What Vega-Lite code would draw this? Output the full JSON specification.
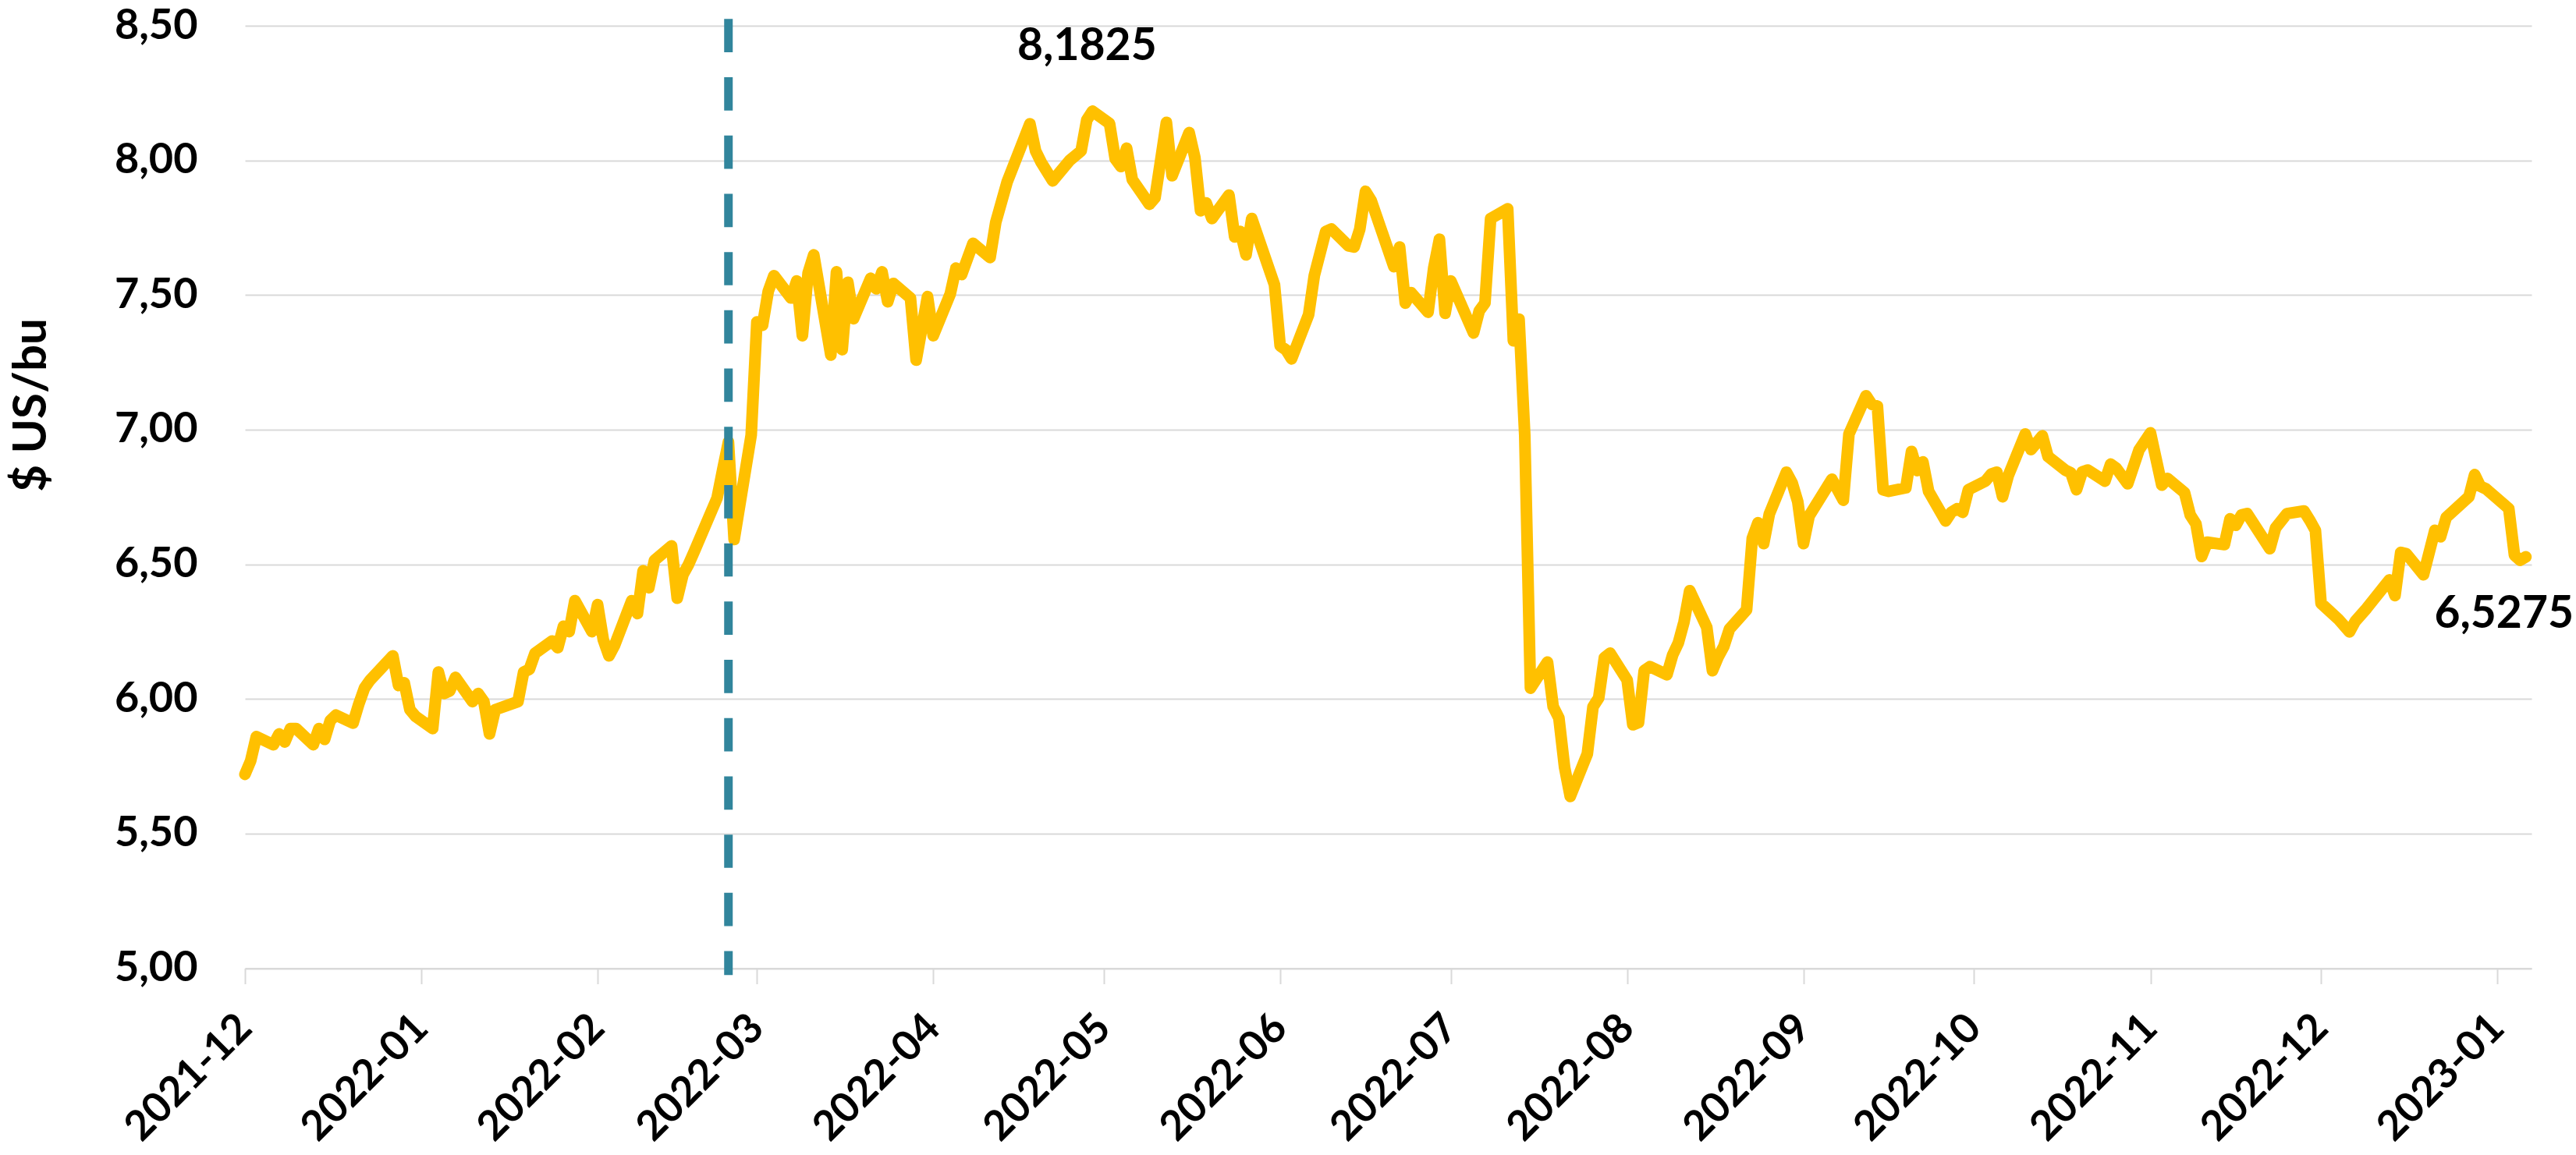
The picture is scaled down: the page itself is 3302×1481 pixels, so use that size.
{
  "$schema": "https://vega.github.io/schema/vega-lite/v6.json",
  "width": 2931,
  "height": 1208.5,
  "autosize": {"type": "none"},
  "padding": {"left": 314, "top": 33, "right": 57, "bottom": 240},
  "background": "white",
  "config": {"view": {"stroke": null}, "font": "Lato"},
  "layer": [
    {
      "data": {"values": [
        {"date": "2021-12-01", "price": 5.72}, {"date": "2021-12-02", "price": 5.77}, {"date": "2021-12-03", "price": 5.86},
        {"date": "2021-12-06", "price": 5.83}, {"date": "2021-12-07", "price": 5.87}, {"date": "2021-12-08", "price": 5.84},
        {"date": "2021-12-09", "price": 5.89}, {"date": "2021-12-10", "price": 5.89}, {"date": "2021-12-13", "price": 5.83},
        {"date": "2021-12-14", "price": 5.89}, {"date": "2021-12-15", "price": 5.85}, {"date": "2021-12-16", "price": 5.92},
        {"date": "2021-12-17", "price": 5.94}, {"date": "2021-12-20", "price": 5.91}, {"date": "2021-12-21", "price": 5.98},
        {"date": "2021-12-22", "price": 6.04}, {"date": "2021-12-23", "price": 6.07}, {"date": "2021-12-27", "price": 6.16},
        {"date": "2021-12-28", "price": 6.05}, {"date": "2021-12-29", "price": 6.06}, {"date": "2021-12-30", "price": 5.96},
        {"date": "2021-12-31", "price": 5.935}, {"date": "2022-01-03", "price": 5.89}, {"date": "2022-01-04", "price": 6.10},
        {"date": "2022-01-05", "price": 6.02}, {"date": "2022-01-06", "price": 6.03}, {"date": "2022-01-07", "price": 6.08},
        {"date": "2022-01-10", "price": 5.99}, {"date": "2022-01-11", "price": 6.02}, {"date": "2022-01-12", "price": 5.99},
        {"date": "2022-01-13", "price": 5.87}, {"date": "2022-01-14", "price": 5.96}, {"date": "2022-01-18", "price": 5.99},
        {"date": "2022-01-19", "price": 6.10}, {"date": "2022-01-20", "price": 6.11}, {"date": "2022-01-21", "price": 6.17},
        {"date": "2022-01-24", "price": 6.215}, {"date": "2022-01-25", "price": 6.19}, {"date": "2022-01-26", "price": 6.27},
        {"date": "2022-01-27", "price": 6.25}, {"date": "2022-01-28", "price": 6.365}, {"date": "2022-01-31", "price": 6.25},
        {"date": "2022-02-01", "price": 6.35}, {"date": "2022-02-02", "price": 6.22}, {"date": "2022-02-03", "price": 6.16},
        {"date": "2022-02-04", "price": 6.20}, {"date": "2022-02-07", "price": 6.365}, {"date": "2022-02-08", "price": 6.317},
        {"date": "2022-02-09", "price": 6.476}, {"date": "2022-02-10", "price": 6.413}, {"date": "2022-02-11", "price": 6.515},
        {"date": "2022-02-14", "price": 6.568}, {"date": "2022-02-15", "price": 6.374}, {"date": "2022-02-16", "price": 6.461},
        {"date": "2022-02-17", "price": 6.50}, {"date": "2022-02-18", "price": 6.548}, {"date": "2022-02-22", "price": 6.746},
        {"date": "2022-02-23", "price": 6.852}, {"date": "2022-02-24", "price": 6.954}, {"date": "2022-02-25", "price": 6.592},
        {"date": "2022-02-28", "price": 6.98}, {"date": "2022-03-01", "price": 7.40}, {"date": "2022-03-02", "price": 7.388},
        {"date": "2022-03-03", "price": 7.514}, {"date": "2022-03-04", "price": 7.572}, {"date": "2022-03-07", "price": 7.489},
        {"date": "2022-03-08", "price": 7.552}, {"date": "2022-03-09", "price": 7.349}, {"date": "2022-03-10", "price": 7.581},
        {"date": "2022-03-11", "price": 7.649}, {"date": "2022-03-14", "price": 7.277}, {"date": "2022-03-15", "price": 7.586},
        {"date": "2022-03-16", "price": 7.297}, {"date": "2022-03-17", "price": 7.547}, {"date": "2022-03-18", "price": 7.412},
        {"date": "2022-03-21", "price": 7.562}, {"date": "2022-03-22", "price": 7.523}, {"date": "2022-03-23", "price": 7.586},
        {"date": "2022-03-24", "price": 7.475}, {"date": "2022-03-25", "price": 7.543}, {"date": "2022-03-28", "price": 7.489},
        {"date": "2022-03-29", "price": 7.258}, {"date": "2022-03-31", "price": 7.494}, {"date": "2022-04-01", "price": 7.349},
        {"date": "2022-04-04", "price": 7.504}, {"date": "2022-04-05", "price": 7.60}, {"date": "2022-04-06", "price": 7.576},
        {"date": "2022-04-08", "price": 7.692}, {"date": "2022-04-11", "price": 7.639}, {"date": "2022-04-12", "price": 7.77},
        {"date": "2022-04-14", "price": 7.92}, {"date": "2022-04-18", "price": 8.136}, {"date": "2022-04-19", "price": 8.035},
        {"date": "2022-04-20", "price": 7.992}, {"date": "2022-04-22", "price": 7.924}, {"date": "2022-04-25", "price": 8.00},
        {"date": "2022-04-27", "price": 8.035}, {"date": "2022-04-28", "price": 8.15}, {"date": "2022-04-29", "price": 8.1825},
        {"date": "2022-05-02", "price": 8.137}, {"date": "2022-05-03", "price": 8.006}, {"date": "2022-05-04", "price": 7.977},
        {"date": "2022-05-05", "price": 8.045}, {"date": "2022-05-06", "price": 7.929}, {"date": "2022-05-09", "price": 7.837},
        {"date": "2022-05-10", "price": 7.861}, {"date": "2022-05-12", "price": 8.141}, {"date": "2022-05-13", "price": 7.943},
        {"date": "2022-05-16", "price": 8.103}, {"date": "2022-05-17", "price": 8.011}, {"date": "2022-05-18", "price": 7.813},
        {"date": "2022-05-19", "price": 7.842}, {"date": "2022-05-20", "price": 7.784}, {"date": "2022-05-23", "price": 7.871},
        {"date": "2022-05-24", "price": 7.716}, {"date": "2022-05-25", "price": 7.736}, {"date": "2022-05-26", "price": 7.649},
        {"date": "2022-05-27", "price": 7.784}, {"date": "2022-05-31", "price": 7.538}, {"date": "2022-06-01", "price": 7.311},
        {"date": "2022-06-02", "price": 7.297}, {"date": "2022-06-03", "price": 7.263}, {"date": "2022-06-06", "price": 7.427},
        {"date": "2022-06-07", "price": 7.572}, {"date": "2022-06-09", "price": 7.736}, {"date": "2022-06-10", "price": 7.745},
        {"date": "2022-06-13", "price": 7.683}, {"date": "2022-06-14", "price": 7.678}, {"date": "2022-06-15", "price": 7.745},
        {"date": "2022-06-16", "price": 7.885}, {"date": "2022-06-17", "price": 7.851}, {"date": "2022-06-21", "price": 7.605},
        {"date": "2022-06-22", "price": 7.678}, {"date": "2022-06-23", "price": 7.470}, {"date": "2022-06-24", "price": 7.509},
        {"date": "2022-06-27", "price": 7.436}, {"date": "2022-06-28", "price": 7.601}, {"date": "2022-06-29", "price": 7.707},
        {"date": "2022-06-30", "price": 7.432}, {"date": "2022-07-01", "price": 7.552}, {"date": "2022-07-05", "price": 7.359},
        {"date": "2022-07-06", "price": 7.441}, {"date": "2022-07-07", "price": 7.470}, {"date": "2022-07-08", "price": 7.784},
        {"date": "2022-07-11", "price": 7.82}, {"date": "2022-07-12", "price": 7.33}, {"date": "2022-07-13", "price": 7.41},
        {"date": "2022-07-14", "price": 6.98}, {"date": "2022-07-15", "price": 6.04}, {"date": "2022-07-18", "price": 6.137},
        {"date": "2022-07-19", "price": 5.971}, {"date": "2022-07-20", "price": 5.929}, {"date": "2022-07-21", "price": 5.746},
        {"date": "2022-07-22", "price": 5.638}, {"date": "2022-07-25", "price": 5.796}, {"date": "2022-07-26", "price": 5.971},
        {"date": "2022-07-27", "price": 6.004}, {"date": "2022-07-28", "price": 6.153}, {"date": "2022-07-29", "price": 6.17},
        {"date": "2022-08-01", "price": 6.07}, {"date": "2022-08-02", "price": 5.904}, {"date": "2022-08-03", "price": 5.912},
        {"date": "2022-08-04", "price": 6.105}, {"date": "2022-08-05", "price": 6.12}, {"date": "2022-08-08", "price": 6.09},
        {"date": "2022-08-09", "price": 6.163}, {"date": "2022-08-10", "price": 6.208}, {"date": "2022-08-11", "price": 6.286},
        {"date": "2022-08-12", "price": 6.402}, {"date": "2022-08-15", "price": 6.266}, {"date": "2022-08-16", "price": 6.105},
        {"date": "2022-08-17", "price": 6.156}, {"date": "2022-08-18", "price": 6.195}, {"date": "2022-08-19", "price": 6.26},
        {"date": "2022-08-22", "price": 6.331}, {"date": "2022-08-23", "price": 6.596}, {"date": "2022-08-24", "price": 6.654},
        {"date": "2022-08-25", "price": 6.577}, {"date": "2022-08-26", "price": 6.687}, {"date": "2022-08-29", "price": 6.842},
        {"date": "2022-08-30", "price": 6.803}, {"date": "2022-08-31", "price": 6.732}, {"date": "2022-09-01", "price": 6.577},
        {"date": "2022-09-02", "price": 6.68}, {"date": "2022-09-06", "price": 6.816}, {"date": "2022-09-08", "price": 6.738},
        {"date": "2022-09-09", "price": 6.984}, {"date": "2022-09-12", "price": 7.126}, {"date": "2022-09-13", "price": 7.094},
        {"date": "2022-09-14", "price": 7.087}, {"date": "2022-09-15", "price": 6.777}, {"date": "2022-09-16", "price": 6.771},
        {"date": "2022-09-19", "price": 6.784}, {"date": "2022-09-20", "price": 6.919}, {"date": "2022-09-21", "price": 6.848},
        {"date": "2022-09-22", "price": 6.88}, {"date": "2022-09-23", "price": 6.771}, {"date": "2022-09-26", "price": 6.661},
        {"date": "2022-09-27", "price": 6.693}, {"date": "2022-09-28", "price": 6.706}, {"date": "2022-09-29", "price": 6.693},
        {"date": "2022-09-30", "price": 6.777}, {"date": "2022-10-03", "price": 6.809}, {"date": "2022-10-04", "price": 6.835},
        {"date": "2022-10-05", "price": 6.842}, {"date": "2022-10-06", "price": 6.751}, {"date": "2022-10-07", "price": 6.829},
        {"date": "2022-10-10", "price": 6.984}, {"date": "2022-10-11", "price": 6.926}, {"date": "2022-10-13", "price": 6.977},
        {"date": "2022-10-14", "price": 6.90}, {"date": "2022-10-17", "price": 6.85}, {"date": "2022-10-18", "price": 6.84},
        {"date": "2022-10-19", "price": 6.777}, {"date": "2022-10-20", "price": 6.843}, {"date": "2022-10-21", "price": 6.85},
        {"date": "2022-10-24", "price": 6.809}, {"date": "2022-10-25", "price": 6.872}, {"date": "2022-10-26", "price": 6.857},
        {"date": "2022-10-28", "price": 6.799}, {"date": "2022-10-30", "price": 6.925}, {"date": "2022-11-01", "price": 6.988},
        {"date": "2022-11-03", "price": 6.794}, {"date": "2022-11-04", "price": 6.819}, {"date": "2022-11-07", "price": 6.766},
        {"date": "2022-11-08", "price": 6.683}, {"date": "2022-11-09", "price": 6.65}, {"date": "2022-11-10", "price": 6.529},
        {"date": "2022-11-11", "price": 6.582}, {"date": "2022-11-14", "price": 6.573}, {"date": "2022-11-15", "price": 6.669},
        {"date": "2022-11-16", "price": 6.645}, {"date": "2022-11-17", "price": 6.683}, {"date": "2022-11-18", "price": 6.688},
        {"date": "2022-11-22", "price": 6.558}, {"date": "2022-11-23", "price": 6.635}, {"date": "2022-11-25", "price": 6.688},
        {"date": "2022-11-28", "price": 6.698}, {"date": "2022-11-29", "price": 6.664}, {"date": "2022-11-30", "price": 6.626},
        {"date": "2022-12-01", "price": 6.355}, {"date": "2022-12-04", "price": 6.297}, {"date": "2022-12-06", "price": 6.249},
        {"date": "2022-12-07", "price": 6.288}, {"date": "2022-12-09", "price": 6.336}, {"date": "2022-12-13", "price": 6.442},
        {"date": "2022-12-14", "price": 6.384}, {"date": "2022-12-15", "price": 6.544}, {"date": "2022-12-16", "price": 6.539},
        {"date": "2022-12-19", "price": 6.461}, {"date": "2022-12-21", "price": 6.626}, {"date": "2022-12-22", "price": 6.602},
        {"date": "2022-12-23", "price": 6.674}, {"date": "2022-12-27", "price": 6.751}, {"date": "2022-12-28", "price": 6.833},
        {"date": "2022-12-29", "price": 6.79}, {"date": "2022-12-30", "price": 6.78}, {"date": "2023-01-03", "price": 6.707},
        {"date": "2023-01-04", "price": 6.534}, {"date": "2023-01-05", "price": 6.515}, {"date": "2023-01-06", "price": 6.5275}
      ]},
      "mark": {"type": "line", "color": "#FFC000", "strokeWidth": 15, "strokeJoin": "round", "strokeCap": "round"},
      "encoding": {
        "x": {
          "field": "date", "type": "temporal",
          "scale": {"type": "utc", "domain": [{"year": 2021, "month": 12, "date": 1, "utc": true}, {"year": 2023, "month": 1, "date": 7, "utc": true}]},
          "axis": {
            "values": [
              {"year": 2021, "month": 12, "date": 1, "utc": true},
              {"year": 2022, "month": 1, "date": 1, "utc": true},
              {"year": 2022, "month": 2, "date": 1, "utc": true},
              {"year": 2022, "month": 3, "date": 1, "utc": true},
              {"year": 2022, "month": 4, "date": 1, "utc": true},
              {"year": 2022, "month": 5, "date": 1, "utc": true},
              {"year": 2022, "month": 6, "date": 1, "utc": true},
              {"year": 2022, "month": 7, "date": 1, "utc": true},
              {"year": 2022, "month": 8, "date": 1, "utc": true},
              {"year": 2022, "month": 9, "date": 1, "utc": true},
              {"year": 2022, "month": 10, "date": 1, "utc": true},
              {"year": 2022, "month": 11, "date": 1, "utc": true},
              {"year": 2022, "month": 12, "date": 1, "utc": true},
              {"year": 2023, "month": 1, "date": 1, "utc": true}
            ],
            "labelExpr": "utcFormat(datum.value, '%Y-%m')",
            "labelAngle": -45, "labelAlign": "right", "labelBaseline": "middle",
            "labelFont": "Lato", "labelFontSize": 53, "labelFontWeight": "bold", "labelColor": "black",
            "labelPadding": 48, "labelOverlap": false, "labelBound": false, "labelFlush": false, "labelLimit": 0,
            "tickSize": 20, "tickColor": "#d9d9d9", "tickWidth": 2,
            "domainColor": "#d9d9d9", "domainWidth": 2,
            "grid": false, "title": null
          }
        },
        "y": {
          "field": "price", "type": "quantitative",
          "scale": {"domain": [5, 8.5], "nice": false, "zero": false},
          "axis": {
            "values": [5, 5.5, 6, 6.5, 7, 7.5, 8, 8.5],
            "labelExpr": "replace(format(datum.value, '.2f'), '.', ',')",
            "labelFont": "Lato", "labelFontSize": 54, "labelFontWeight": "bold", "labelColor": "black",
            "labelPadding": 61, "labelLimit": 0, "ticks": false, "tickSize": 0, "domain": false,
            "grid": true, "gridColor": "#d9d9d9", "gridWidth": 2,
            "title": "$ US/bu", "titleFont": "Lato", "titleFontSize": 60, "titleFontWeight": "bold", "titleColor": "black",
            "titleAngle": -90, "titleX": -274, "titleY": 486, "titleAlign": "center", "titleBaseline": "middle"
          }
        }
      }
    },
    {
      "data": {"values": [{"date": "2022-02-24"}]},
      "mark": {"type": "rule", "color": "#31859C", "strokeWidth": 11, "strokeDash": [42.7, 32], "strokeCap": "butt"},
      "encoding": {
        "x": {"field": "date", "type": "temporal"},
        "y": {"datum": 8.525},
        "y2": {"datum": 4.975}
      }
    },
    {
      "data": {"values": [{"date": "2022-04-29", "price": 8.1825, "label": "8,1825"}]},
      "mark": {"type": "text", "font": "Lato", "fontSize": 57, "fontWeight": "bold", "color": "black", "align": "center", "baseline": "middle", "dx": -7, "dy": -83},
      "encoding": {
        "x": {"field": "date", "type": "temporal"},
        "y": {"field": "price", "type": "quantitative"},
        "text": {"field": "label"}
      }
    },
    {
      "data": {"values": [{"date": "2023-01-06", "price": 6.5275, "label": "6,5275"}]},
      "mark": {"type": "text", "font": "Lato", "fontSize": 57, "fontWeight": "bold", "color": "black", "align": "center", "baseline": "middle", "dx": -28, "dy": 74},
      "encoding": {
        "x": {"field": "date", "type": "temporal"},
        "y": {"field": "price", "type": "quantitative"},
        "text": {"field": "label"}
      }
    }
  ]
}
